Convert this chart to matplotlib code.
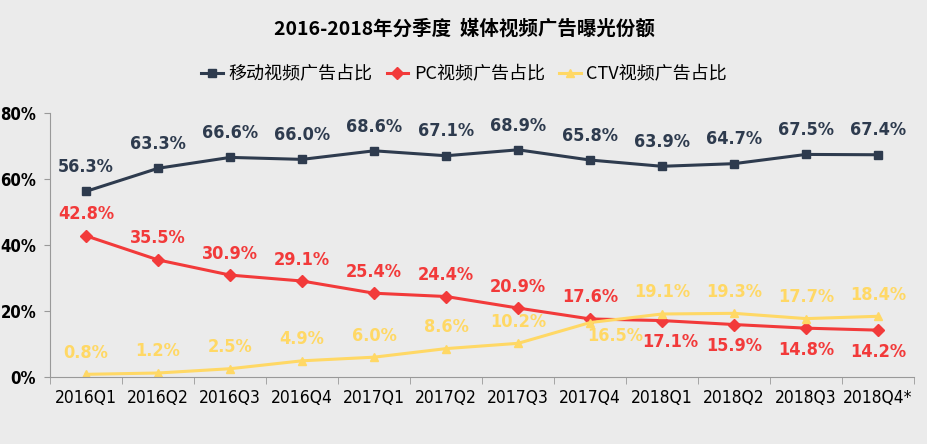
import matplotlib.pyplot as plt
import numpy as np

quarters = ["2016Q1", "2016Q2", "2016Q3", "2016Q4", "2017Q1", "2017Q2",
            "2017Q3", "2017Q4", "2018Q1", "2018Q2", "2018Q3", "2018Q4*"]
mobile = [56.3, 63.3, 66.6, 66.0, 68.6, 67.1, 68.9, 65.8, 63.9, 64.7, 67.5, 67.4]
pc = [42.8, 35.5, 30.9, 29.1, 25.4, 24.4, 20.9, 17.6, 17.1, 15.9, 14.8, 14.2]
ctv = [0.8, 1.2, 2.5, 4.9, 6.0, 8.6, 10.2, 16.5, 19.1, 19.3, 17.7, 18.4]

names = ["移动视频广告占比", "PC视频广告占比", "CTV视频广告占比"]
colors = ["#2e3b4e", "#f23a3a", "#ffd865"]
markers = ["s", "D", "^"]

cjk = ["Noto Sans CJK SC", "DejaVu Sans"]
narrow = dict(family="DejaVu Sans", fontstretch="condensed")

bg = "#ebebeb"
fig = plt.figure(figsize=(9.28, 4.44), dpi=100, facecolor=bg)
ax = fig.add_axes([0.054, 0.151, 0.931, 0.594], facecolor=bg)

x = np.arange(len(quarters))
lines = []
for vals, c, m, n in zip([mobile, pc, ctv], colors, markers, names):
    ln, = ax.plot(x, vals, color=c, lw=2.2, marker=m, ms=6, label=n)
    lines.append(ln)

# data labels
for i, v in enumerate(mobile):
    ax.annotate(f"{v:.1f}%", (i, v), xytext=(0, 11), textcoords="offset points",
                ha="center", va="bottom", color=colors[0], fontsize=13,
                fontweight="bold", **narrow)
for i, v in enumerate(pc):
    below = i >= 8
    dx = 6 if i == 8 else 0
    ax.annotate(f"{v:.1f}%", (i, v), xytext=(dx, -9 if below else 9),
                textcoords="offset points", ha="center",
                va="top" if below else "bottom", color=colors[1], fontsize=13,
                fontweight="bold", **narrow)
for i, v in enumerate(ctv):
    below = i == 7
    ax.annotate(f"{v:.1f}%", (i, v), xytext=(18 if below else 0, -3 if below else 9),
                textcoords="offset points", ha="center",
                va="top" if below else "bottom", color=colors[2], fontsize=13,
                fontweight="bold", **narrow)

ax.set_xlim(-0.5, len(quarters) - 0.5)
ax.set_ylim(0, 80)
ax.set_yticks([0, 20, 40, 60, 80])
ax.set_yticklabels([f"{t}%" for t in [0, 20, 40, 60, 80]], fontsize=12,
                   fontweight="bold", **narrow)
ax.set_xticks(x)
ax.set_xticklabels(quarters, fontsize=12.5, **narrow)
ax.set_xticks(np.arange(-0.5, len(quarters)), minor=True)
ax.tick_params(axis="x", which="major", length=0, pad=9)
ax.tick_params(axis="x", which="minor", length=5, color="#999999")
ax.tick_params(axis="y", length=4, color="#999999", pad=6)

for s in ["top", "right"]:
    ax.spines[s].set_visible(False)
for s in ["left", "bottom"]:
    ax.spines[s].set_color("#999999")

fig.text(0.5, 0.935, "2016-2018年分季度  媒体视频广告曝光份额", ha="center",
         va="center", fontsize=14, fontweight="bold", family=cjk)
fig.legend(handles=lines, loc="center", bbox_to_anchor=(0.5, 0.833), ncol=3,
           frameon=False, prop={"family": cjk, "size": 13},
           handlelength=1.2, handletextpad=0.3, columnspacing=0.8)

fig.savefig("out.png", dpi=100, facecolor=bg)
